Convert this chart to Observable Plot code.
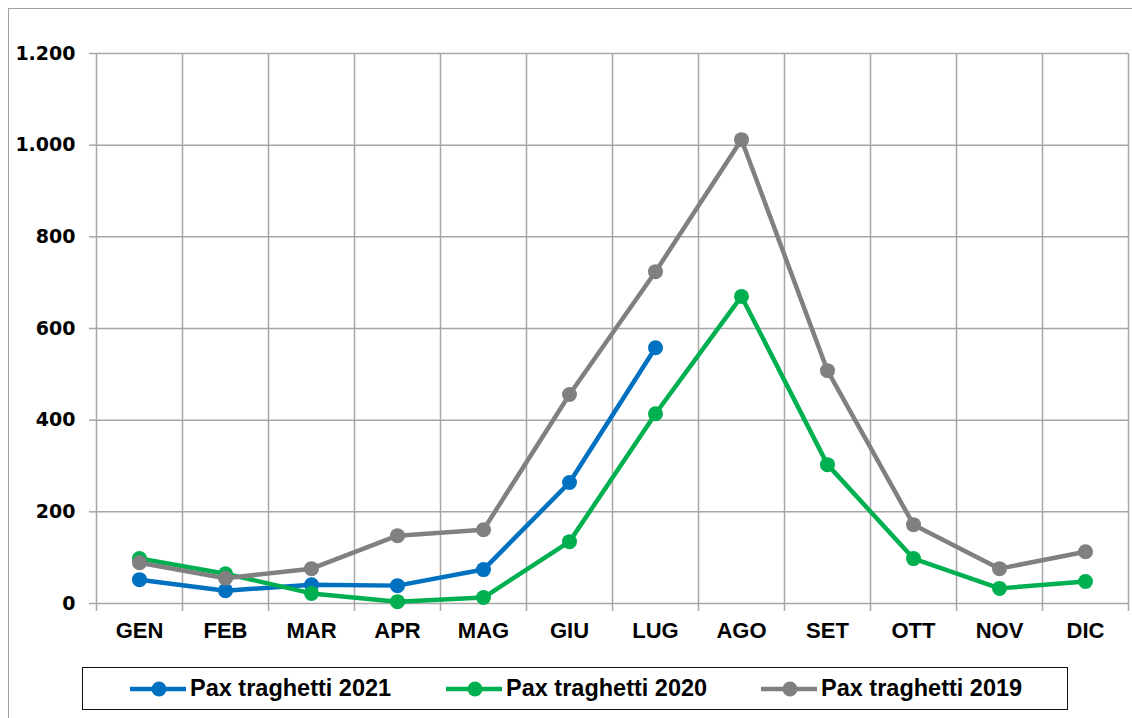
<!DOCTYPE html>
<html>
<head>
<meta charset="utf-8">
<script src="https://cdn.jsdelivr.net/npm/d3@7"></script>
<script src="https://cdn.jsdelivr.net/npm/@observablehq/plot@0.6"></script>
<style>
  body { margin: 0; background: #fff; }
  #wrap { position: relative; width: 1132px; height: 718px; overflow: hidden; }
  #frame { position: absolute; left: 8px; top: 8px; width: 1140px; height: 730px; border: 1px solid #a0a0a0; }
  #chart { position: absolute; left: 0; top: 0; }
  #legend { position: absolute; left: 82px; top: 667px; width: 986px; height: 43px; border: 1.5px solid #111;
    box-sizing: border-box; display: flex; align-items: center; font-family: "Liberation Sans", Arial, sans-serif;
    font-weight: bold; font-size: 23.5px; color: #000; }
  .item { position: absolute; top: 0; height: 100%; display: flex; align-items: center; }
  .item svg { margin-right: 3px; }
</style>
</head>
<body>
<div id="wrap">
  <div id="frame"></div>
  <div id="chart"></div>
  <div id="legend"></div>
</div>
<script>
const months = ["GEN","FEB","MAR","APR","MAG","GIU","LUG","AGO","SET","OTT","NOV","DIC"];
const pax2021 = [52, 28, 41, 39, 74, 264, 558];
const pax2020 = [98, 65, 22, 4, 13, 135, 414, 670, 303, 98, 33, 48];
const pax2019 = [89, 55, 76, 148, 161, 456, 724, 1012, 508, 172, 76, 113];
const yTicks = [0, 200, 400, 600, 800, 1000, 1200];
const seriesNames = ["Pax traghetti 2021", "Pax traghetti 2020", "Pax traghetti 2019"];
const seriesColors = ["#0070C0", "#00B050", "#808080"];
const seriesValues = [pax2021, pax2020, pax2019];

const rows = seriesValues.map((vals, s) => vals.map((v, i) => ({s, i: i + 0.5, v})));
const fmt = d => d3.format(",")(d).replace(/,/g, ".");
const gridColor = "#a6a6a6";

const marks = [
  Plot.gridY({ticks: yTicks, stroke: gridColor, strokeOpacity: 1, strokeWidth: 1.5}),
  Plot.gridX({ticks: d3.range(13), stroke: gridColor, strokeOpacity: 1, strokeWidth: 1.5}),
  Plot.axisY({ticks: yTicks, tickSize: 7, tickPadding: 14, tickFormat: fmt, label: null, stroke: gridColor, strokeWidth: 1.5,
    fill: "#000", fontSize: 19, fontWeight: "bold", fontFamily: "DejaVu Sans"}),
  Plot.axisX({ticks: d3.range(13), tickSize: 8, tickFormat: () => "", label: null, stroke: gridColor, strokeWidth: 1.5}),
  Plot.axisX({ticks: months.map((_, i) => i + 0.5), tickSize: 0, tickPadding: 19, label: null, tickFormat: d => months[Math.floor(d)],
    fill: "#000", fontSize: 22, fontWeight: "bold", fontFamily: "Liberation Sans"})
];
rows.forEach((data, s) => {
  marks.push(Plot.line(data, {x: "i", y: "v", stroke: seriesColors[s], strokeWidth: 4.5, strokeLinejoin: "round"}));
  marks.push(Plot.dot(data, {x: "i", y: "v", fill: seriesColors[s], r: 7.5}));
});

const chart = Plot.plot({
  width: 1132,
  height: 655,
  marginLeft: 96,
  marginRight: 4,
  marginTop: 53,
  marginBottom: 52,
  x: {type: "linear", domain: [0, 12], axis: null, label: null},
  y: {domain: [0, 1200], axis: null, label: null},
  style: {background: "transparent"},
  marks
});
document.getElementById("chart").appendChild(chart);

const legend = document.getElementById("legend");
const lefts = [46, 362, 677];
seriesNames.forEach((name, s) => {
  const it = document.createElement("div");
  it.className = "item";
  it.style.left = lefts[s] + "px";
  it.innerHTML = `<svg width="58" height="20"><line x1="1" y1="10" x2="57" y2="10" stroke="${seriesColors[s]}" stroke-width="4.5"/><circle cx="30" cy="10" r="7.5" fill="${seriesColors[s]}"/></svg><span>${name}</span>`;
  legend.appendChild(it);
});
</script>
</body>
</html>
